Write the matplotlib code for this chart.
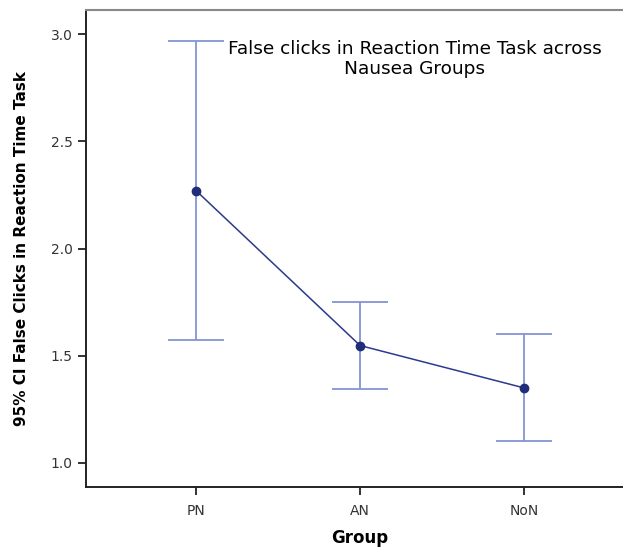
import matplotlib.pyplot as plt

groups = ['PN', 'AN', 'NoN']
means = [2.271, 1.548, 1.350]
ci_low = [1.572, 1.343, 1.102]
ci_high = [2.970, 1.753, 1.602]

err_color = '#8494d4'
line_color = '#2b3a8c'

fig = plt.figure(figsize=(6.23, 5.48), dpi=100)
ax = fig.add_axes([0.138, 0.1113, 0.88, 0.870])

x = list(range(len(groups)))
yerr = [[m - lo for m, lo in zip(means, ci_low)],
        [hi - m for m, hi in zip(means, ci_high)]]

ax.errorbar(x, means, yerr=yerr, fmt='none', ecolor=err_color,
            elinewidth=1.3, capsize=20, capthick=1.3, zorder=2)
ax.plot(x, means, color=line_color, lw=1.1, marker='o', ms=6,
        mfc='#1f2d7a', mec='#1f2d7a', zorder=3)

ax.set_xlim(-0.67, 2.67)
ax.set_ylim(0.888, 3.112)
ax.set_xticks(x)
ax.set_xticklabels(groups)
ax.set_yticks([1.0, 1.5, 2.0, 2.5, 3.0])
ax.set_yticklabels(['1.0', '1.5', '2.0', '2.5', '3.0'])
ax.tick_params(axis='both', direction='out', length=6, width=1.3,
               colors='#222222', labelsize=10, labelcolor='#333333')
ax.tick_params(axis='x', pad=6)

for side in ['left', 'bottom']:
    ax.spines[side].set_linewidth(1.4)
    ax.spines[side].set_color('#222222')
ax.spines['top'].set_color('#888888')
ax.spines['top'].set_linewidth(1.5)
ax.spines['right'].set_visible(False)

ax.set_ylabel('95% CI False Clicks in Reaction Time Task', fontsize=11,
              fontweight='bold', labelpad=16)
ax.set_xlabel('Group', fontsize=12, fontweight='bold', labelpad=8)

ax.text(0.6, 0.938, 'False clicks in Reaction Time Task across\nNausea Groups',
        transform=ax.transAxes, ha='center', va='top', fontsize=13.3,
        linespacing=1.15, color='#000000')

fig.savefig('out.png', dpi=100)
